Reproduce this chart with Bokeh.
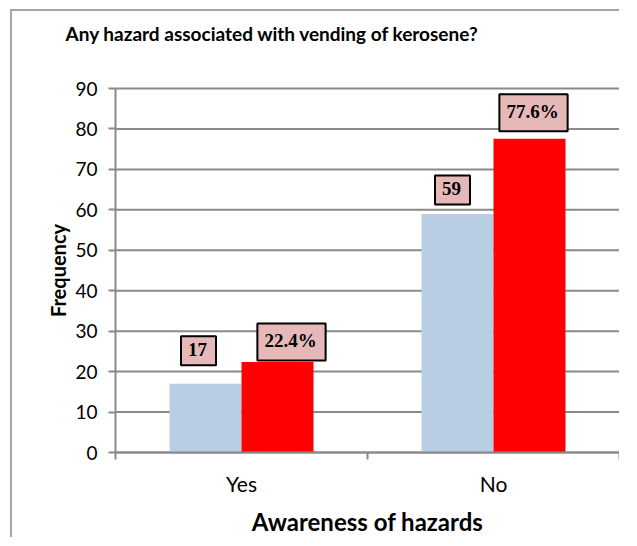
import math
from bokeh.plotting import figure
from bokeh.models import FixedTicker, Label, Range1d
from bokeh.embed import file_html
from bokeh.resources import INLINE

# ---- data ----
categories = ["Yes", "No"]
frequency = [17, 59]
percent = [22.4, 77.6]
y_ticks = [0, 10, 20, 30, 40, 50, 60, 70, 80, 90]
title_text = "Any hazard associated with vending of kerosene?"
x_title = "Awareness of hazards"
y_title = "Frequency"

# ---- style / layout ----
BLUE = "#b9cde5"
RED = "#ff0000"
LABEL_BG = "#e6b9b8"
GRID = "#8a8a8a"
SANS = "Lato"
SERIF = "Liberation Serif"
bar_w = 72 / 252

W, H = 609, 528
# canvas pixel geometry (frame = whole canvas); plot area inside it
PL, PR, PT, PB = 103, 607, 77, 441     # plot area edges in canvas pixels
y_max = y_ticks[-1]
n = len(categories)
xs = n / (PR - PL)
ys = y_max / (PB - PT)
x_range = Range1d(-PL * xs, (W - PL) * xs)
y_range = Range1d(-(H - PB) * ys, PB * ys)

p = figure(width=W, height=H, output_backend="svg", toolbar_location=None,
           x_range=x_range, y_range=y_range)
p.min_border = 0
p.margin = (9, 0, 0, 10)
p.styles = {"border-top": "2px solid #a6a6a6", "border-left": "2px solid #a6a6a6"}
p.outline_line_color = None
p.background_fill_color = "white"
p.border_fill_color = "white"
p.xgrid.grid_line_color = None
p.ygrid.grid_line_color = None

# horizontal gridlines across the plot area
p.segment(x0=[0] * len(y_ticks), x1=[n] * len(y_ticks), y0=y_ticks, y1=y_ticks,
          line_color=GRID, line_width=2)

centers = [i + 0.5 for i in range(n)]
blue_x = [c - bar_w / 2 for c in centers]
red_x = [c + bar_w / 2 for c in centers]
p.vbar(x=blue_x, top=frequency, width=bar_w, fill_color=BLUE, line_color=None)
p.vbar(x=red_x, top=percent, width=bar_w, fill_color=RED, line_color=None)

# y axis
p.yaxis.fixed_location = 0
p.yaxis.bounds = (0, y_max)
p.yaxis.ticker = FixedTicker(ticks=y_ticks)
p.yaxis.axis_line_color = GRID
p.yaxis.axis_line_width = 2
p.yaxis.major_tick_line_color = GRID
p.yaxis.major_tick_line_width = 2
p.yaxis.major_tick_out = 7
p.yaxis.major_tick_in = 0
p.yaxis.minor_tick_line_color = None
p.yaxis.major_label_standoff = 11
p.yaxis.major_label_text_font = SANS
p.yaxis.major_label_text_font_size = "19px"
p.yaxis.major_label_text_color = "black"

# x axis: labels at category centers, tick marks at category boundaries
p.xaxis.fixed_location = 0
p.xaxis.bounds = (0, n)
p.xaxis.ticker = FixedTicker(ticks=centers, minor_ticks=list(range(n + 1)))
p.xaxis.major_label_overrides = {c: cat for c, cat in zip(centers, categories)}
p.xaxis.axis_line_color = GRID
p.xaxis.axis_line_width = 2
p.xaxis.major_tick_line_color = None
p.xaxis.minor_tick_line_color = GRID
p.xaxis.minor_tick_line_width = 2
p.xaxis.minor_tick_out = 7
p.xaxis.minor_tick_in = 0
p.xaxis.major_tick_out = 0
p.xaxis.major_tick_in = 0
p.xaxis.major_label_standoff = 11
p.xaxis.major_label_text_font = SANS
p.xaxis.major_label_text_font_size = "21px"
p.xaxis.major_label_text_color = "black"

# data labels (pixel nudges mimic the reference placement)
blue_nudge = [(-7, 33), (-5, 24)]
red_nudge = [(14, 20), (4, 26)]
for i in range(n):
    for xv, yv, txt, (dx, dy) in [
        (blue_x[i], frequency[i], f"{frequency[i]}", blue_nudge[i]),
        (red_x[i], percent[i], f"{percent[i]}%", red_nudge[i]),
    ]:
        p.add_layout(Label(x=xv, y=yv, text=txt, x_offset=dx, y_offset=dy,
                           text_align="center", text_baseline="middle",
                           text_font=SERIF, text_font_style="bold",
                           text_font_size="19px", text_color="black",
                           background_fill_color=LABEL_BG,
                           border_line_color="black", border_line_width=2,
                           padding=(7, 9, 7, 9)))

# titles (screen units: from the frame's bottom-left corner)
p.add_layout(Label(x=53, y=H - 22, x_units="screen", y_units="screen",
                   text=title_text, text_align="left", text_baseline="middle",
                   text_font=SANS, text_font_style="bold", text_font_size="19px",
                   text_color="black"))
p.add_layout(Label(x=(PL + PR) / 2, y=H - 510, x_units="screen", y_units="screen",
                   text=x_title, text_align="center", text_baseline="middle",
                   text_font=SANS, text_font_style="bold", text_font_size="24px",
                   text_color="black"))
p.add_layout(Label(x=45, y=H - (PT + PB) / 2, x_units="screen", y_units="screen",
                   text=y_title, text_align="center", text_baseline="middle",
                   angle=math.pi / 2,
                   text_font=SANS, text_font_style="bold", text_font_size="20px",
                   text_color="black"))

open("out.html", "w").write(file_html(p, INLINE))
